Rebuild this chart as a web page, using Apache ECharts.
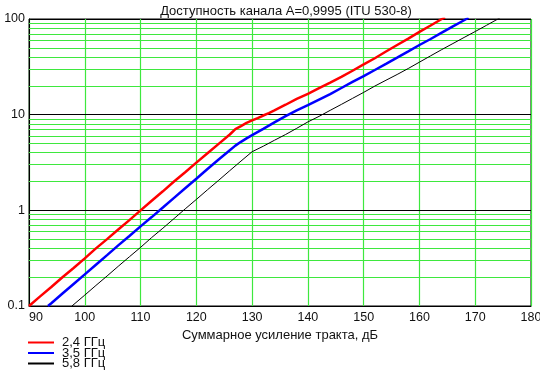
<!DOCTYPE html>
<html>
<head>
<meta charset="utf-8">
<script src="https://cdn.jsdelivr.net/npm/echarts@6/dist/echarts.min.js"></script>
<style>
html,body{margin:0;padding:0;background:#fff;}
#chart{width:540px;height:373px;}
</style>
</head>
<body>
<div id="chart"></div>
<script>
// Categories / tick values
var xTicks = [90, 100, 110, 120, 130, 140, 150, 160, 170, 180];
var yDecades = [0.1, 1, 10, 100];
var yMinor = [0.2,0.3,0.4,0.5,0.6,0.7,0.8,0.9, 2,3,4,5,6,7,8,9, 20,30,40,50,60,70,80,90];

// 2,4 ГГц
var gain24 = [90, 92, 94, 96, 98, 100, 102, 104, 106, 108, 110, 112, 114, 116, 118, 120, 122, 124, 126, 127, 128, 129, 130, 131, 132, 133, 134, 136, 138, 140, 142, 144, 146, 148, 150, 152, 154, 156, 158, 160, 162, 164, 164.6];
var dist24 = [0.1, 0.126, 0.158, 0.2, 0.25, 0.315, 0.4, 0.5, 0.63, 0.79, 1.0, 1.26, 1.58, 2.0, 2.5, 3.15, 3.95, 4.95, 6.2, 7.05, 7.6, 8.2, 8.7, 9.2, 9.8, 10.4, 11.1, 12.7, 14.6, 16.5, 18.9, 21.6, 24.8, 28.8, 33.5, 38.9, 45.7, 53.5, 62.4, 73.3, 85.5, 100, 104];

// 3,5 ГГц
var gain35 = [93.4, 94, 96, 98, 100, 102, 104, 106, 108, 110, 112, 114, 116, 118, 120, 122, 124, 126, 127, 128, 129, 130, 132, 134, 136, 138, 140, 142, 144, 146, 148, 150, 152, 154, 156, 158, 160, 162, 164, 166, 168, 168.8];
var dist35 = [0.1, 0.107, 0.135, 0.17, 0.214, 0.27, 0.34, 0.43, 0.54, 0.68, 0.85, 1.07, 1.35, 1.7, 2.14, 2.7, 3.4, 4.25, 4.75, 5.2, 5.65, 6.1, 7.1, 8.3, 9.65, 11.1, 12.6, 14.4, 16.4, 19.0, 22.0, 25.3, 29.3, 34.0, 39.5, 45.9, 53.5, 61.8, 72.0, 83.8, 97.1, 103];

// 5,8 ГГц
var gain58 = [97.7, 100, 102, 104, 106, 108, 110, 112, 114, 116, 118, 120, 122, 124, 126, 128, 130, 132, 134, 136, 138, 140, 142, 144, 146, 148, 150, 152, 154, 156, 158, 160, 162, 164, 166, 168, 170, 172, 174, 174.4];
var dist58 = [0.1, 0.13, 0.164, 0.206, 0.26, 0.327, 0.41, 0.52, 0.65, 0.82, 1.035, 1.3, 1.64, 2.06, 2.6, 3.27, 4.1, 4.68, 5.4, 6.2, 7.2, 8.4, 9.6, 11.1, 12.8, 14.8, 17.1, 19.9, 22.9, 26.3, 30.4, 35.4, 41.2, 47.9, 55.4, 64.1, 74.0, 85.8, 99.5, 102];

function zip(a, b) { return a.map(function (v, i) { return [v, b[i]]; }); }

var green = '#3ee83e';
var chart = echarts.init(document.getElementById('chart'), null, {renderer: 'canvas'});
var font = 'Liberation Sans, Arial, Helvetica, sans-serif';

chart.setOption({
  animation: false,
  backgroundColor: '#fff',
  textStyle: {fontFamily: font},
  title: {
    text: 'Доступность канала A=0,9995 (ITU 530-8)',
    left: 281, textAlign: 'center', top: 0,
    textStyle: {fontSize: 13, fontWeight: 'normal', color: '#111', fontFamily: font}
  },
  grid: {left: 29, right: 9, top: 19, bottom: 67, containLabel: false, outerBoundsMode: 'none',
    show: true, borderColor: '#000', borderWidth: 1, backgroundColor: 'transparent'},
  legend: {
    orient: 'vertical', left: 27, top: 336, height: 60, itemWidth: 26, itemHeight: 8, itemGap: -2.5, padding: 0,
    itemStyle: {opacity: 0},
    textStyle: {fontSize: 13, color: '#111', lineHeight: 10.5, padding: [0, 0, 0, 3], fontFamily: font},
    data: ['2,4 ГГц', '3,5 ГГц', '5,8 ГГц']
  },
  xAxis: {
    type: 'value', min: 90, max: 180, interval: 10,
    name: 'Суммарное усиление тракта, дБ', nameLocation: 'middle', nameGap: 19,
    nameTextStyle: {fontSize: 13, color: '#111', fontFamily: font},
    axisLine: {show: true, lineStyle: {color: '#000', width: 1}},
    axisTick: {show: false},
    axisLabel: {fontSize: 12.5, color: '#111', margin: 5, alignMinLabel: 'left', fontFamily: font},
    splitLine: {show: true, lineStyle: {color: green, width: 1.2}}
  },
  yAxis: {
    type: 'log', logBase: 10, min: 0.1, max: 100,
    name: 'Дальность, км', nameLocation: 'middle', nameGap: 21, nameRotate: 90,
    nameTextStyle: {fontSize: 12.5, color: '#111', fontFamily: font},
    axisLine: {show: true, lineStyle: {color: '#000', width: 1}},
    axisTick: {show: false},
    axisLabel: {fontSize: 12.5, color: '#111', margin: 4, fontFamily: font,
      formatter: function (v) { return String(+v.toPrecision(3)); }},
    splitLine: {show: true, lineStyle: {color: '#000', width: 1}}
  },
  series: [
    {
      type: 'line', name: 'grid', data: [], z: 1, silent: true,
      markLine: {
        silent: true, symbol: 'none', label: {show: false}, animation: false,
        lineStyle: {color: green, type: 'solid', width: 1.2},
        data: yMinor.map(function (v) { return {yAxis: v}; })
      }
    },
    {
      type: 'line', name: 'decades', data: [], z: 2, silent: true,
      markLine: {
        silent: true, symbol: 'none', label: {show: false}, animation: false,
        lineStyle: {color: '#000', type: 'solid', width: 1},
        data: yDecades.slice(1, 3).map(function (v) { return {yAxis: v}; })
      }
    },
    {type: 'line', name: '2,4 ГГц', data: zip(gain24, dist24), showSymbol: false, symbol: 'none', z: 5,
      lineStyle: {color: '#ff0000', width: 2.5}, itemStyle: {color: '#ff0000'}},
    {type: 'line', name: '3,5 ГГц', data: zip(gain35, dist35), showSymbol: false, symbol: 'none', z: 5,
      lineStyle: {color: '#0000ff', width: 2.5}, itemStyle: {color: '#0000ff'}},
    {type: 'line', name: '5,8 ГГц', data: zip(gain58, dist58), showSymbol: false, symbol: 'none', z: 5,
      lineStyle: {color: '#000000', width: 1}, itemStyle: {color: '#000000'}}
  ]
});
</script>
</body>
</html>
